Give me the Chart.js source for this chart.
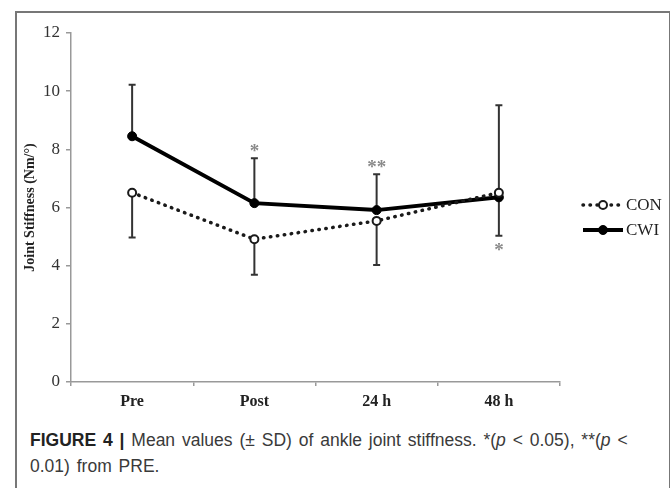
<!DOCTYPE html>
<html>
<head>
<meta charset="utf-8">
<script src="https://cdn.jsdelivr.net/npm/chart.js@4"></script>
<style>
  body { margin: 0; width: 670px; height: 488px; overflow: hidden; background: #fff; position: relative; }
  #frame { position: absolute; left: 15px; top: 11px; width: 652px; height: 500px; border: 2px solid #777; border-bottom: none; }
  #chart { position: absolute; left: 0; top: 0; }
  #caption { position: absolute; left: 30px; top: 427px; font-family: "Liberation Sans", Arial, sans-serif; font-size: 17.5px; word-spacing: 2px; line-height: 26px; color: #3a3a3a; white-space: nowrap; }
  #caption b { color: #222; }
</style>
</head>
<body>
<div id="frame"></div>
<canvas id="chart" width="670" height="420"></canvas>
<div id="caption"><b>FIGURE 4 |</b> Mean values (± SD) of ankle joint stiffness. *(<i>p</i> &lt; 0.05), **(<i>p</i> &lt;<br>0.01) from PRE.</div>
<script>
// values
const labels = ["Pre", "Post", "24 h", "48 h"];
const conValues = [6.51, 4.91, 5.54, 6.51];
const cwiValues = [8.45, 6.15, 5.91, 6.35];
const conSD = [1.54, 1.22, 1.52, 1.48]; // drawn downward
const cwiSD = [1.77, 1.54, 1.23, 3.17]; // drawn upward
const sigAbove = ["", "*", "**", ""];
const sigBelow = ["", "", "", "*"];
const yTicks = [0, 2, 4, 6, 8, 10, 12];

const serif = "'Liberation Serif', 'Times New Roman', serif";

// ------------------------------------
// error bars + asterisks
// ------------------------------------
const errorBars = {
  id: "errorBars",
  beforeDatasetsDraw(chart) {
    const { ctx, scales } = chart;
    const x = scales.x, y = scales.y;
    ctx.save();
    ctx.strokeStyle = "#333";
    ctx.lineWidth = 2;
    const bar = (px, v0, v1) => {
      const y0 = y.getPixelForValue(v0), y1 = y.getPixelForValue(v1);
      ctx.beginPath();
      ctx.moveTo(px, y0);
      ctx.lineTo(px, y1);
      ctx.moveTo(px - 3.5, y1);
      ctx.lineTo(px + 3.5, y1);
      ctx.stroke();
    };
    labels.forEach((l, i) => {
      const px = x.getPixelForValue(i);
      bar(px, cwiValues[i], cwiValues[i] + cwiSD[i]);
      bar(px, conValues[i], conValues[i] - conSD[i]);
    });
    ctx.restore();
  },
  afterDatasetsDraw(chart) {
    const { ctx, scales } = chart;
    const x = scales.x, y = scales.y;
    ctx.save();
    ctx.fillStyle = "#8a8a8a";
    ctx.font = "bold 19px " + serif;
    ctx.textAlign = "center";
    ctx.textBaseline = "middle";
    labels.forEach((l, i) => {
      const px = x.getPixelForValue(i);
      if (sigAbove[i]) {
        const top = y.getPixelForValue(Math.max(cwiValues[i] + cwiSD[i], conValues[i]));
        ctx.fillText(sigAbove[i], px, top - 6);
      }
      if (sigBelow[i]) {
        const bot = y.getPixelForValue(Math.min(conValues[i] - conSD[i], cwiValues[i]));
        ctx.fillText(sigBelow[i], px, bot + 15);
      }
    });
    ctx.restore();
  },
};

// ------------------------------------
// legend on the right
// ------------------------------------
const sideLegend = {
  id: "sideLegend",
  afterDraw(chart) {
    const { ctx, chartArea } = chart;
    const x0 = chartArea.right + 23, x1 = x0 + 40;
    ctx.save();
    chart.data.datasets.forEach((ds, i) => {
      const ly = 205 + i * 25;
      ctx.strokeStyle = ds.borderColor;
      ctx.lineWidth = ds.borderWidth;
      ctx.lineCap = ds.borderCapStyle || "butt";
      ctx.setLineDash(ds.borderDash || []);
      ctx.beginPath();
      ctx.moveTo(x0, ly);
      ctx.lineTo(x1, ly);
      ctx.stroke();
      ctx.setLineDash([]);
      ctx.beginPath();
      ctx.arc((x0 + x1) / 2, ly, ds.pointRadius, 0, Math.PI * 2);
      ctx.fillStyle = ds.pointBackgroundColor;
      ctx.fill();
      ctx.lineWidth = ds.pointBorderWidth;
      ctx.strokeStyle = ds.pointBorderColor;
      ctx.stroke();
      ctx.fillStyle = "#222";
      ctx.font = "17px " + serif;
      ctx.textBaseline = "middle";
      ctx.fillText(ds.label, x1 + 3, ly + 1);
    });
    ctx.restore();
  },
};

new Chart(document.getElementById("chart"), {
  type: "line",
  data: {
    labels,
    datasets: [
      {
        label: "CON",
        data: conValues,
        borderColor: "#1a1a1a",
        borderWidth: 3.5,
        borderDash: [0.5, 6.5],
        borderCapStyle: "round",
        pointRadius: 4,
        pointBackgroundColor: "#fff",
        pointBorderColor: "#1a1a1a",
        pointBorderWidth: 2,
        tension: 0,
      },
      {
        label: "CWI",
        data: cwiValues,
        borderColor: "#000",
        borderWidth: 4,
        pointRadius: 4.5,
        pointBackgroundColor: "#000",
        pointBorderColor: "#000",
        pointBorderWidth: 1,
        tension: 0,
      },
    ],
  },
  options: {
    responsive: false,
    animation: false,
    layout: { padding: { left: 0, right: 110, top: 33, bottom: 8 } },
    plugins: { legend: { display: false }, tooltip: { enabled: false } },
    scales: {
      x: {
        offset: true,
        grid: { offset: true, drawOnChartArea: false, tickLength: 4, color: "#999", lineWidth: 1.5 },
        border: { color: "#999", width: 1.5 },
        ticks: { color: "#222", padding: 6, font: { family: serif, size: 16, weight: "bold" } },
        afterFit(s) { s.height = 30; },
      },
      y: {
        min: 0,
        max: 12,
        afterBuildTicks(s) { s.ticks = yTicks.map((v) => ({ value: v })); },
        grid: { drawOnChartArea: false, tickLength: 5, color: "#999", lineWidth: 1.5 },
        border: { color: "#999", width: 1.5 },
        ticks: { color: "#333", padding: 6, font: { family: serif, size: 17 } },
        title: {
          display: true,
          text: "Joint Stiffness (Nm/°)",
          color: "#222",
          padding: { top: 22, bottom: 0 },
          font: { family: serif, size: 14, weight: "bold" },
        },
        afterFit(s) { s.width = 71; },
      },
    },
  },
  plugins: [errorBars, sideLegend],
});
</script>
</body>
</html>
